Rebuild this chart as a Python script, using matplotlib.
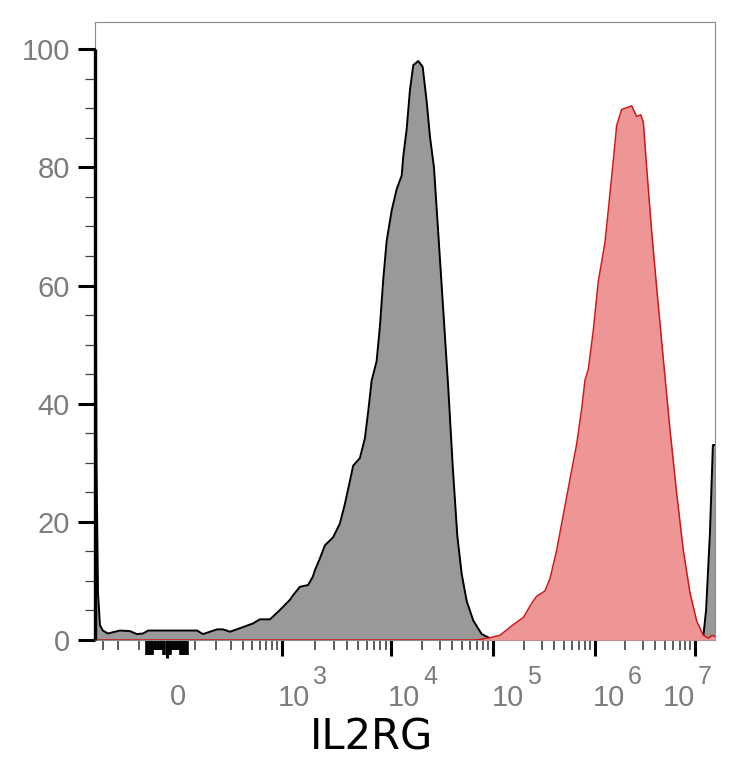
import numpy as np
import matplotlib
matplotlib.use("Agg")
import matplotlib.pyplot as plt

# ---------------- data ----------------
gray_x = [-366, -353, -340, -324, -301, -265, -191, -140, -110, -85, -66, 0, 66, 110, 136, 208, 245, 293, 376, 512, 603, 761, 957,
          1184, 1270, 1463, 1742, 1923, 2010, 2234, 2479, 2956, 3404, 3784, 4207, 4508, 5196, 5768, 6194, 6653, 7391, 7925, 8497, 9128,
          10160, 11370, 12740, 13210, 14260, 15350, 16550, 18540, 20470, 22400, 24110, 26400, 29100, 32590, 36480, 40280, 44670,
          49320, 55220, 64090, 77470, 93500, 117000,
          1.12e7, 1.2e7, 1.29e7, 1.41e7, 1.51e7, 1.585e7]
gray_y = [100, 30, 8, 2.5, 1.6, 1.1, 1.6, 1.5, 1.0, 1.1, 1.6, 1.6, 1.6, 1.6, 1.0, 1.8, 1.8, 1.4, 2.0, 2.8, 3.5, 3.5, 5.1,
          6.8, 7.6, 9.0, 9.3, 10.7, 11.8, 13.8, 16.0, 17.4, 19.7, 23.0, 26.9, 29.5, 30.8, 34.1, 38.7, 43.9, 47.2, 53.1, 61.0, 67.5,
          72.7, 76.3, 78.6, 81.9, 86.5, 93.1, 97.3, 98.0, 97.0, 91.1, 85.2, 80.0, 68.8, 55.7, 42.6, 29.5, 17.7,
          11.2, 6.6, 3.3, 1.0, 0.3, 0.0,
          0.0, 0.0, 5, 18, 33, 33]

red_x = [-366, 66650, 74650, 93500, 117100, 158200, 198300, 239400, 268000, 323300, 362300, 421300, 489200, 568600,
         661800, 741300, 798200, 859700, 962200, 1.079e6, 1.259e6, 1.358e6, 1.524e6, 1.648e6, 1.849e6, 2.075e6, 2.328e6,
         2.612e6, 2.864e6, 3.041e6, 3.289e6, 3.69e6, 4.14e6, 4.819e6, 5.623e6, 6.561e6, 7.638e6, 8.913e6, 1.04e7,
         1.211e7, 1.359e7, 1.479e7, 1.585e7]
red_y = [0, 0, 0.1, 0.4, 0.8, 2.6, 3.8, 6.2, 7.4, 8.3, 10.4, 15.2, 21.2, 27.2,
         33.2, 39.2, 44.0, 45.8, 52.4, 60.7, 67.3, 72.7, 81.1, 87.1, 89.8, 90.1, 90.4,
         88.6, 88.9, 87.7, 79.9, 69.1, 59.6, 47.6, 35.6, 24.8, 15.2, 8.0, 3.2,
         0.8, 0.3, 0.8, 0.6]

y_ticks = [0, 20, 40, 60, 80, 100]
x_major = [0, 1e3, 1e4, 1e5, 1e6, 1e7]
x_decades = [3, 4, 5, 6, 7]
x_label = "IL2RG"

# ---------------- biexponential-like x scale ----------------
LN10 = np.log(10)
W = 150.0
ANCH_V = np.array([-1e5, 0, 1e3, 1e4, 1e5, 1e6, 1e7, 1e9])
ANCH_P = np.array([-151.6, 167, 282, 391, 493, 595, 695, 895])
ANCH_U = np.arcsinh(ANCH_V / W) / LN10


def fwd(v):
    return np.interp(np.arcsinh(np.asarray(v, float) / W) / LN10, ANCH_U, ANCH_P)


def inv(p):
    return W * np.sinh(np.interp(np.asarray(p, float), ANCH_P, ANCH_U) * LN10)


W_PX, H_PX = 734, 768
fig = plt.figure(figsize=(W_PX / 100, H_PX / 100), dpi=100)
ax = fig.add_axes([95 / W_PX, (H_PX - 640) / H_PX, 620 / W_PX, 618 / H_PX])
ax.set_xscale('function', functions=(fwd, inv))
ax.set_xlim(-366, 1.585e7)
ax.set_ylim(0, 104.6)

# histograms
ax.fill_between(gray_x, gray_y, 0, color='#999999', lw=0, zorder=2)
ax.plot(gray_x, gray_y, color='black', lw=1.4, zorder=3)
ax.fill_between(red_x, red_y, 0, color='#ee9595', lw=0, zorder=4)
ax.plot(red_x, red_y, color='#d01818', lw=1.1, zorder=5)

# spines
for s in ['top', 'right', 'left', 'bottom']:
    ax.spines[s].set_color('#8a8a8a')
    ax.spines[s].set_linewidth(0.8)
ax.plot([0, 0], [0, 100], transform=ax.get_yaxis_transform(), color='black',
        lw=2.4, clip_on=False, zorder=6, solid_capstyle='butt')

# y ticks
ax.set_yticks(y_ticks)
ax.set_yticks(np.arange(5, 100, 5), minor=True)
ax.tick_params(axis='y', which='major', length=12, width=2.2, color='black',
               labelsize=21, labelcolor='#7c7c7c', pad=6)
ax.tick_params(axis='y', which='minor', length=7, width=0.9, color='#404040')
for lab in ax.get_yticklabels():
    lab.set_fontfamily('Liberation Sans')

# x ticks
near_zero = [v for v in range(-70, 71, 10) if v != 0]
minor = [-300, -200, -100] + near_zero
minor += list(range(100, 1000, 100))
for d in range(3, 7):
    minor += [k * 10 ** d for k in range(2, 10)]
ax.set_xticks(x_major)
ax.set_xticks(minor, minor=True)
ax.tick_params(axis='x', which='major', length=11.5, width=2.2, color='black', labelbottom=False)
ax.tick_params(axis='x', which='minor', length=7, width=1.1, color='#303030', labelbottom=False)
for loc, tick in zip(ax.xaxis.get_minorticklocs(), ax.xaxis.get_minor_ticks()):
    if abs(loc) <= 70:
        tick.tick1line.set_markeredgewidth(2.6)
        tick.tick1line.set_markeredgecolor('black')
        tick.tick1line.set_markersize(7 if abs(loc) in (20, 30, 40) else 11)
ax.xaxis.get_major_ticks()[0].tick1line.set_markersize(13)

# x tick labels (biexponential style)
lab_kw = dict(xycoords=('data', 'axes fraction'), textcoords='offset pixels',
              color='#7c7c7c', family='Liberation Sans', annotation_clip=False)
ax.annotate('0', xy=(0, 0), xytext=(11, -57), ha='center', va='center', fontsize=21, **lab_kw)
dx = {3: -4, 4: -3, 5: -1, 6: -2, 7: -32}
for n in x_decades:
    ax.annotate('10', xy=(10.0 ** n, 0), xytext=(dx[n], -58), ha='left', va='center', fontsize=21, **lab_kw)
    ax.annotate(str(n), xy=(10.0 ** n, 0), xytext=(dx[n] + 35, -37), ha='left', va='center', fontsize=18, **lab_kw)

fig.text(371 / W_PX, 1 - 737 / H_PX, x_label, fontsize=30, family='DejaVu Sans',
         ha='center', va='center', color='black')

fig.savefig('out.png', dpi=100, facecolor='white')
